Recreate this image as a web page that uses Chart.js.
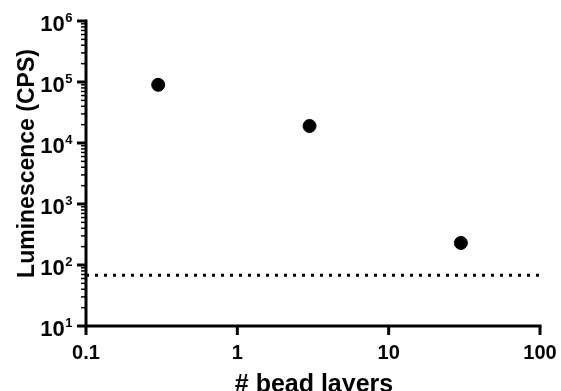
<!DOCTYPE html>
<html>
<head>
<meta charset="utf-8">
<script src="https://cdn.jsdelivr.net/npm/chart.js@4"></script>
<style>
    html, body { margin: 0; padding: 0; background: #ffffff; }
    #wrap { width: 561px; height: 391px; position: relative; }
</style>
</head>
<body>
<div id="wrap"><canvas id="lumChart"></canvas></div>
<script>
// data
const beadLayers = [0.3, 3, 30];
const luminescence = [90000, 19000, 230];
const detectionLimit = 68;

const xTicks = [0.1, 1, 10, 100];
const xTickLabels = ["0.1", "1", "10", "100"];
const yTicks = [10, 100, 1000, 10000, 100000, 1000000];
const yTickExponents = ["1", "2", "3", "4", "5", "6"];

const FONT = '"Liberation Sans", Arial, sans-serif';

// axes, ticks and labels drawn by hand (GraphPad style)
const axisPlugin = {
    id: "axisPlugin",
    afterDraw(chart) {
        const ctx = chart.ctx;
        const xs = chart.scales.x;
        const ys = chart.scales.y;
        const area = chart.chartArea;
        ctx.save();
        ctx.strokeStyle = "#000";
        ctx.fillStyle = "#000";

        // axis lines
        ctx.lineWidth = 3;
        ctx.beginPath();
        ctx.moveTo(area.left, area.top - 1.5);
        ctx.lineTo(area.left, area.bottom + 1.5);
        ctx.moveTo(area.left - 1.5, area.bottom);
        ctx.lineTo(area.right + 1.5, area.bottom);
        ctx.stroke();

        // y ticks, major + minor
        for (let i = 0; i < yTicks.length; i++) {
            const py = ys.getPixelForValue(yTicks[i]);
            ctx.lineWidth = 3;
            ctx.beginPath();
            ctx.moveTo(area.left - 9, py);
            ctx.lineTo(area.left, py);
            ctx.stroke();
            if (i < yTicks.length - 1) {
                ctx.lineWidth = 1.5;
                for (let m = 2; m <= 9; m++) {
                    const my = ys.getPixelForValue(yTicks[i] * m);
                    ctx.beginPath();
                    ctx.moveTo(area.left - 5, my);
                    ctx.lineTo(area.left, my);
                    ctx.stroke();
                }
            }
        }

        // y labels: 10 with superscript exponent
        for (let i = 0; i < yTicks.length; i++) {
            const py = ys.getPixelForValue(yTicks[i]);
            ctx.font = "bold 13px " + FONT;
            const supW = ctx.measureText(yTickExponents[i]).width;
            const right = 72.5;
            ctx.textAlign = "left";
            ctx.textBaseline = "alphabetic";
            ctx.fillText(yTickExponents[i], right - supW, py + 0.5);
            ctx.font = "bold 22px " + FONT;
            ctx.textAlign = "right";
            ctx.fillText("10", right - supW - 0.5, py + 10);
        }

        // x ticks and labels
        ctx.lineWidth = 3;
        ctx.font = "bold 20px " + FONT;
        ctx.textAlign = "center";
        ctx.textBaseline = "alphabetic";
        for (let i = 0; i < xTicks.length; i++) {
            const px = xs.getPixelForValue(xTicks[i]);
            ctx.beginPath();
            ctx.moveTo(px, area.bottom);
            ctx.lineTo(px, area.bottom + 9);
            ctx.stroke();
            ctx.fillText(xTickLabels[i], px, 359);
        }

        // axis titles
        ctx.font = "bold 25px " + FONT;
        ctx.textAlign = "center";
        ctx.fillText("# bead layers", (area.left + area.right) / 2 + 1, 392);

        ctx.save();
        ctx.translate(34, 163.5);
        ctx.rotate(-Math.PI / 2);
        ctx.font = "bold 23px " + FONT;
        ctx.fillText("Luminescence (CPS)", 0, 0);
        ctx.restore();

        ctx.restore();
    }
};

const bgPlugin = {
    id: "bgPlugin",
    beforeDraw(chart) {
        const ctx = chart.ctx;
        ctx.save();
        ctx.fillStyle = "#ffffff";
        ctx.fillRect(0, 0, chart.width, chart.height);
        ctx.restore();
    }
};

const ctx = document.getElementById("lumChart").getContext("2d");
new Chart(ctx, {
    type: "scatter",
    data: {
        datasets: [{
            label: "Luminescence",
            data: beadLayers.map((x, i) => ({ x: x, y: luminescence[i] })),
            backgroundColor: "#000",
            borderColor: "#000",
            pointRadius: 6.5,
            pointHoverRadius: 6.5
        }, {
            type: "line",
            label: "Background",
            data: [{ x: xTicks[0], y: detectionLimit }, { x: xTicks[xTicks.length - 1], y: detectionLimit }],
            borderColor: "#000",
            borderWidth: 3,
            borderDash: [3, 6],
            pointRadius: 0,
            fill: false
        }]
    },
    options: {
        responsive: true,
        maintainAspectRatio: false,
        animation: false,
        layout: {
            autoPadding: false,
            padding: { top: 21, right: 21, left: 0, bottom: 0 }
        },
        plugins: {
            legend: { display: false },
            tooltip: { enabled: false }
        },
        scales: {
            x: {
                type: "logarithmic",
                min: 0.1,
                max: 100,
                ticks: { display: false },
                grid: { display: false },
                border: { display: false },
                afterFit(scale) { scale.height = 65; }
            },
            y: {
                type: "logarithmic",
                min: 10,
                max: 1000000,
                ticks: { display: false },
                grid: { display: false },
                border: { display: false },
                afterFit(scale) { scale.width = 86; }
            }
        }
    },
    plugins: [bgPlugin, axisPlugin]
});
</script>
</body>
</html>
